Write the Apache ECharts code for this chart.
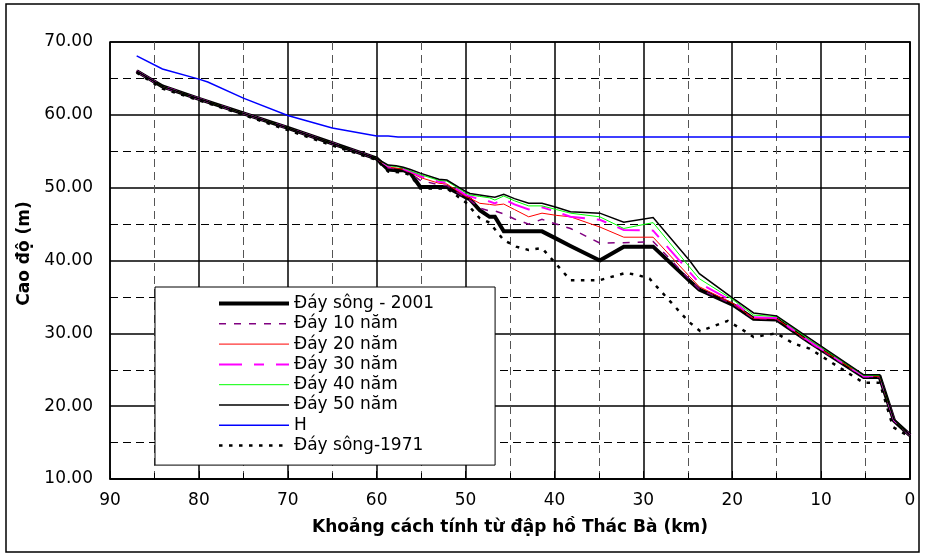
<!DOCTYPE html>
<html>
<head>
<meta charset="utf-8">
<script src="https://cdn.jsdelivr.net/npm/echarts@6/dist/echarts.min.js"></script>
<style>
html,body{margin:0;padding:0;background:#fff;}
#chart{width:926px;height:555px;}
</style>
</head>
<body>
<div id="chart"></div>
<script>
// Stations (km from Thac Ba dam)
const km = [87, 84.1, 80, 75, 70, 65, 60, 58.7, 57.8, 57.0, 56.2, 55.1, 53.0, 52.1, 50.0, 49.5, 48.4, 47.3, 46.7, 45.7, 44.5, 42.9, 41.4, 39.8, 38.2, 34.9, 32.2, 28.9, 24.8, 23.7, 19.9, 17.6, 15.0, 11.3, 5.2, 3.4, 1.8, 0];

const day2001 = [66.0, 63.9, 62.2, 60.2, 58.2, 56.1, 54.0, 52.5, 52.4, 52.4, 52.0, 50.1, 50.1, 50.1, 48.7, 48.4, 46.9, 46.0, 46.0, 44.0, 44.0, 44.0, 44.0, 43.0, 42.0, 40.0, 41.9, 41.9, 37.2, 36.0, 33.9, 32.0, 31.9, 28.8, 24.0, 24.0, 18.0, 16.0];
const day10 = [66.0, 63.9, 62.2, 60.2, 58.2, 56.1, 54.0, 52.7, 52.6, 52.5, 52.0, 51.0, 50.4, 50.3, 48.6, 48.3, 47.2, 46.8, 46.8, 46.4, 45.7, 45.0, 45.65, 45.0, 44.4, 42.4, 42.45, 42.6, 37.4, 36.05, 34.0, 32.0, 31.95, 28.7, 24.0, 24.0, 18.0, 16.0];
const day20 = [66.0, 63.9, 62.2, 60.2, 58.2, 56.1, 54.0, 52.8, 52.7, 52.5, 52.1, 51.4, 50.6, 50.5, 48.8, 48.55, 47.85, 47.7, 47.6, 47.75, 47.0, 46.0, 46.5, 46.2, 46.0, 44.6, 43.2, 43.2, 37.8, 36.4, 34.1, 32.05, 32.0, 28.8, 24.1, 24.1, 18.1, 16.0];
const day30 = [66.0, 63.9, 62.2, 60.2, 58.2, 56.1, 54.0, 52.9, 52.8, 52.6, 52.2, 51.6, 50.8, 50.7, 49.0, 48.8, 48.4, 48.1, 47.85, 48.4, 47.7, 47.0, 47.3, 46.7, 46.0, 45.6, 44.2, 44.1, 38.4, 36.9, 34.35, 32.2, 32.1, 28.9, 24.1, 24.1, 18.1, 16.0];
const day40 = [66.0, 63.9, 62.2, 60.2, 58.2, 56.1, 54.0, 53.0, 52.9, 52.7, 52.3, 51.8, 51.0, 50.9, 49.3, 49.0, 48.8, 48.6, 48.3, 48.85, 48.2, 47.5, 47.5, 47.0, 46.5, 46.0, 44.4, 45.2, 39.1, 37.5, 34.6, 32.5, 32.3, 29.1, 24.2, 24.2, 18.1, 16.0];
const day50 = [66.0, 63.9, 62.2, 60.2, 58.2, 56.1, 54.0, 53.1, 53.0, 52.8, 52.5, 52.0, 51.15, 51.05, 49.5, 49.2, 49.0, 48.8, 48.7, 49.1, 48.5, 47.85, 47.85, 47.3, 46.7, 46.5, 45.25, 45.9, 40.0, 38.2, 34.8, 32.8, 32.4, 29.3, 24.3, 24.3, 18.2, 16.0];

// Water level H
const hKm = [87, 84.1, 80, 79, 75, 70, 65, 60, 58.7, 57.6, 0];
const hVal = [68.1, 66.3, 64.9, 64.5, 62.3, 59.9, 58.2, 57.1, 57.1, 56.95, 56.95];

// River bed 1971
const km1971 = [87, 84.1, 80, 75, 70, 65, 60, 58.7, 57.0, 56.2, 55.1, 52.1, 50.0, 48.4, 47.3, 45.7, 44.3, 42.9, 41.4, 38.2, 34.9, 32.0, 30.6, 29.3, 24.9, 23.6, 20.5, 19.1, 17.6, 15.0, 13.1, 11.3, 5.2, 3.4, 1.9, 0];
const day1971 = [65.8, 63.6, 62.0, 60.0, 57.9, 55.8, 53.8, 52.2, 52.1, 51.7, 49.9, 49.9, 48.0, 45.8, 45.2, 42.8, 41.9, 41.45, 41.7, 37.3, 37.3, 38.3, 38.0, 37.5, 31.6, 30.3, 31.7, 30.7, 29.5, 30.0, 28.6, 27.9, 23.2, 23.2, 17.1, 15.8];

const names = ['Đáy sông - 2001', 'Đáy 10 năm', 'Đáy 20 năm', 'Đáy 30 năm', 'Đáy 40 năm', 'Đáy 50 năm', 'H', 'Đáy sông-1971'];
const yTicks = [10, 20, 30, 40, 50, 60, 70];

const FONT = 'DejaVu Sans';
const pair = (xs, ys) => xs.map((x, i) => [x, ys[i]]);

// line styles per series (colour, width, dash)
const styles = [
  { color: '#000000', width: 4, type: 'solid' },
  { color: '#800080', width: 1.5, type: [7, 8] },
  { color: '#FF0000', width: 1, type: 'solid' },
  { color: '#FF00FF', width: 2, type: [23, 12, 10, 12] },
  { color: '#00FF00', width: 1, type: 'solid' },
  { color: '#000000', width: 1.5, type: 'solid' },
  { color: '#0000FF', width: 1.5, type: 'solid' },
  { color: '#000000', width: 2.5, type: [3.5, 6.5] }
];
const xs = [km, km, km, km, km, km, hKm, km1971];
const ys = [day2001, day10, day20, day30, day40, day50, hVal, day1971];

const series = names.map((n, i) => ({
  name: n, type: 'line', data: pair(xs[i], ys[i]),
  symbol: 'none', symbolSize: 0, showSymbol: false, silent: true,
  lineStyle: Object.assign({ cap: 'butt', join: 'miter' }, styles[i]),
  itemStyle: { color: styles[i].color }
}));

const legendData = names.map((n, i) => ({
  name: n,
  lineStyle: { color: styles[i].color, width: styles[i].width, type: styles[i].type, cap: 'butt' },
  itemStyle: { opacity: 0 }
}));

const chart = echarts.init(document.getElementById('chart'), null, { renderer: 'canvas' });
chart.setOption({
  animation: false,
  backgroundColor: '#fff',
  grid: { left: 110, right: 16, top: 42, bottom: 76, show: true, borderColor: '#000', borderWidth: 1.5, backgroundColor: 'transparent' },
  xAxis: {
    type: 'value', min: 0, max: 90, interval: 10, inverse: true,
    axisLine: { show: true, onZero: false, lineStyle: { color: '#000', width: 1.5 } },
    axisTick: { show: true, inside: true, length: 8, lineStyle: { color: '#000' } },
    minorTick: { show: true, splitNumber: 2, length: 6, lineStyle: { color: '#000' } },
    splitLine: { show: true, lineStyle: { color: '#000', width: 1.5 } },
    minorSplitLine: { show: true, lineStyle: { color: '#555', width: 1, type: [8, 5] } },
    axisLabel: { fontSize: 17, color: '#000', margin: 13, fontFamily: FONT },
    name: 'Khoảng cách tính từ đập hồ Thác Bà (km)', nameLocation: 'middle', nameGap: 40,
    nameTextStyle: { fontSize: 17, fontWeight: 'bold', color: '#000', fontFamily: FONT }
  },
  yAxis: {
    type: 'value', min: yTicks[0], max: yTicks[yTicks.length - 1], interval: 10,
    axisLine: { show: true, lineStyle: { color: '#000', width: 1.5 } },
    axisTick: { show: false },
    minorTick: { show: false, splitNumber: 2 },
    splitLine: { show: true, lineStyle: { color: '#000', width: 1.5 } },
    minorSplitLine: { show: true, lineStyle: { color: '#000', width: 1, type: [8, 5] } },
    axisLabel: { fontSize: 17, color: '#000', margin: 17, fontFamily: FONT, formatter: v => v.toFixed(2) },
    name: 'Cao độ (m)', nameLocation: 'middle', nameGap: 76, nameRotate: 90,
    nameTextStyle: { fontSize: 17, fontWeight: 'bold', color: '#000', fontFamily: FONT, padding: [0, 0, 0, 14] }
  },
  legend: {
    orient: 'vertical', left: 155, top: 287,
    itemWidth: 70, itemHeight: 14, itemGap: 3.3,
    padding: [8, 61, 11, 62],
    backgroundColor: '#fff', borderColor: '#000', borderWidth: 1,
    itemStyle: { opacity: 0 },
    textStyle: { fontSize: 17, color: '#000', fontFamily: FONT },
    data: legendData
  },
  graphic: [{
    type: 'rect', silent: true, z: 100,
    shape: { x: 6, y: 4, width: 913, height: 548 },
    style: { fill: 'none', stroke: '#000', lineWidth: 1.5 }
  }],
  series: series
});
</script>
</body>
</html>
